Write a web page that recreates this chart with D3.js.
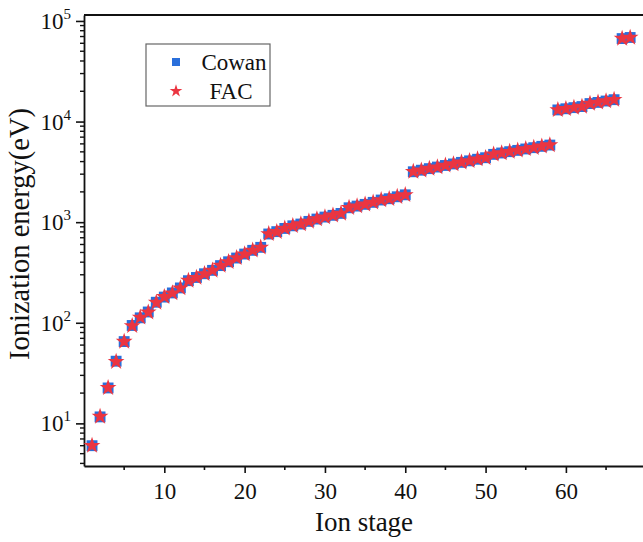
<!DOCTYPE html>
<html>
<head>
<meta charset="utf-8">
<script src="https://cdn.jsdelivr.net/npm/d3@7"></script>
<style>
  html, body { margin: 0; padding: 0; background: #fff; }
  svg { display: block; }
  text { font-family: "Liberation Serif", "Times New Roman", serif; fill: #111; }
</style>
</head>
<body>
<svg id="chart" width="643" height="542"></svg>
<script>
// ---- data ----
const ionStages = d3.range(1, 69);
const cowanEnergy = [
  6.0, 11.6, 22.5, 41.5, 65, 94, 112, 128, 160, 180,
  198, 222, 262, 282, 307, 332, 370, 404, 440, 482,
  525, 562, 763, 805, 866, 920, 958, 1018, 1074, 1124,
  1170, 1222, 1390, 1445, 1503, 1574, 1660, 1710, 1788, 1870,
  3170, 3285, 3405, 3530, 3660, 3790, 3930, 4070, 4220, 4370,
  4720, 4870, 5020, 5170, 5340, 5500, 5670, 5840,
  13050, 13400, 13750, 14100, 15100, 15500, 16000, 16500,
  66800, 68500
];
const facEnergy = [
  6.0, 11.7, 22.6, 41.0, 65, 93, 113, 127, 159, 181,
  197, 221, 263, 281, 306, 331, 371, 403, 441, 481,
  524, 561, 765, 803, 867, 919, 959, 1016, 1075, 1122,
  1171, 1220, 1392, 1443, 1505, 1572, 1662, 1708, 1790, 1868,
  3175, 3280, 3410, 3525, 3665, 3785, 3935, 4065, 4225, 4365,
  4725, 4865, 5025, 5165, 5345, 5495, 5675, 5835,
  13060, 13390, 13760, 14090, 15110, 15490, 16010, 16490,
  66900, 68400
];
const xTickValues = [10, 20, 30, 40, 50, 60];
const xMinorTickValues = [5, 15, 25, 35, 45, 55, 65];
const yMajorExponents = [1, 2, 3, 4, 5];
const seriesNames = ["Cowan", "FAC"];
const seriesColors = ["#2a6fdb", "#eb3541"];

// ---- layout ----
const svg = d3.select("#chart");
const mLeft = 84, mRight = 643, mTop = 15, mBottom = 466;
const x = d3.scaleLinear().domain([0, 69.6]).range([mLeft, mRight]);
const y = d3.scaleLog().domain([3.77, 114600]).range([mBottom, mTop]);

const fontTick = 23;

// frame (top border)
svg.append("line").attr("x1", mLeft).attr("x2", mRight).attr("y1", mTop).attr("y2", mTop)
  .attr("stroke", "#111").attr("stroke-width", 1.8);

// x axis
const gx = svg.append("g").attr("transform", `translate(0,${mBottom})`);
gx.call(d3.axisBottom(x).tickValues(xTickValues).tickSize(7).tickPadding(10).tickSizeOuter(0))
  .call(g => g.select(".domain").attr("stroke-width", 1.8).attr("stroke", "#111"))
  .call(g => g.selectAll(".tick line").attr("stroke-width", 1.6).attr("stroke", "#111"))
  .call(g => g.selectAll(".tick text").attr("font-size", fontTick)
        .attr("font-family", '"Liberation Serif", "Times New Roman", serif').attr("fill", "#111"));
gx.selectAll(".minor").data(xMinorTickValues).enter().append("line")
  .attr("x1", d => x(d)).attr("x2", d => x(d)).attr("y1", 0).attr("y2", 4)
  .attr("stroke", "#111").attr("stroke-width", 1.6);

// y axis
const yMajor = yMajorExponents.map(e => Math.pow(10, e));
const yMinor = [];
for (let e = 0; e <= 5; e++) {
  for (let k = 2; k <= 9; k++) {
    const v = k * Math.pow(10, e);
    if (v >= y.domain()[0] && v <= y.domain()[1]) yMinor.push(v);
  }
}
const gy = svg.append("g").attr("transform", `translate(${mLeft},0)`);
gy.call(d3.axisLeft(y).tickValues(yMajor).tickSize(8).tickFormat("").tickSizeOuter(0))
  .call(g => g.select(".domain").attr("stroke-width", 1.8).attr("stroke", "#111"))
  .call(g => g.selectAll(".tick line").attr("stroke-width", 1.6).attr("stroke", "#111"));
gy.selectAll(".minor").data(yMinor).enter().append("line")
  .attr("x1", -4).attr("x2", 0).attr("y1", d => y(d)).attr("y2", d => y(d))
  .attr("stroke", "#111").attr("stroke-width", 1.4);
const yl = gy.selectAll(".ylab").data(yMajorExponents).enter().append("text")
  .attr("x", -13).attr("y", d => y(Math.pow(10, d)) + 8)
  .attr("text-anchor", "end").attr("font-size", fontTick);
yl.append("tspan").text("10");
yl.append("tspan").attr("font-size", 15).attr("dy", -10).text(d => d);

// axis titles
svg.append("text").attr("x", 364).attr("y", 531).attr("text-anchor", "middle")
  .attr("font-size", 27).text("Ion stage");
svg.append("text").attr("transform", "translate(29,234) rotate(-90)")
  .attr("text-anchor", "middle").attr("font-size", 28.5).text("Ionization energy(eV)");

// data marks
const square = d3.symbol().type(d3.symbolSquare).size(118);
const star = d3.symbol().type(d3.symbolStar).size(88);
svg.append("g").selectAll("path").data(ionStages).enter().append("path")
  .attr("d", square)
  .attr("transform", (d, i) => `translate(${x(d)},${y(cowanEnergy[i])})`)
  .attr("fill", seriesColors[0]);
svg.append("g").selectAll("path").data(ionStages).enter().append("path")
  .attr("d", star)
  .attr("transform", (d, i) => `translate(${x(d)},${y(facEnergy[i])})`)
  .attr("fill", seriesColors[1]);

// legend
const lg = svg.append("g");
lg.append("rect").attr("x", 146).attr("y", 44).attr("width", 124).attr("height", 62)
  .attr("fill", "#fff").attr("stroke", "#666").attr("stroke-width", 1.2);
lg.append("path").attr("d", d3.symbol().type(d3.symbolSquare).size(64))
  .attr("transform", "translate(176,62)").attr("fill", seriesColors[0]);
lg.append("path").attr("d", d3.symbol().type(d3.symbolStar).size(50))
  .attr("transform", "translate(176,91)").attr("fill", seriesColors[1]);
lg.append("text").attr("x", 234).attr("y", 70).attr("text-anchor", "middle")
  .attr("font-size", 23).text(seriesNames[0]);
lg.append("text").attr("x", 231).attr("y", 99).attr("text-anchor", "middle")
  .attr("font-size", 23).text(seriesNames[1]);
</script>
</body>
</html>
